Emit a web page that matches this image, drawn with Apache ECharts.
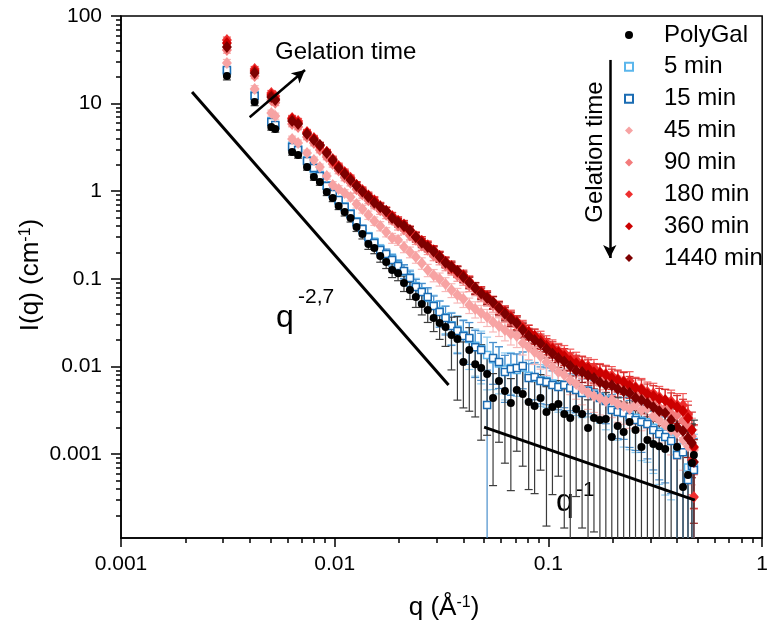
<!DOCTYPE html>
<html><head><meta charset="utf-8">
<script src="https://cdn.jsdelivr.net/npm/echarts@6/dist/echarts.min.js"></script>
<style>html,body{margin:0;padding:0;background:#fff}#c{width:771px;height:626px}</style>
</head><body><div id="c"></div>
<script>
// ---------- data ----------
const q = [0.00313,0.00422,0.00505,0.00527,0.00632,0.00674,0.00742,0.00799,0.00852,0.00918,0.00979,0.01043,0.01113,0.01186,0.01265,0.01348,0.01437,0.01532,0.01633,0.01741,0.01856,0.01979,0.02109,0.02249,0.02397,0.02555,0.02724,0.02904,0.03096,0.03300,0.03518,0.03751,0.03999,0.04263,0.04544,0.04844,0.05164,0.05506,0.05869,0.06257,0.06670,0.07111,0.07580,0.08081,0.08615,0.09184,0.09790,0.1044,0.1113,0.1186,0.1265,0.1348,0.1437,0.1532,0.1633,0.1741,0.1856,0.1979,0.2109,0.2249,0.2397,0.2555,0.2724,0.2904,0.3096,0.3300,0.3518,0.3751,0.3999,0.4263,0.4497,0.4691,0.4793];

const polyGal = [20.7,10.4,5.41,5.13,2.80,2.59,1.89,1.45,1.27,0.98,0.836,0.678,0.579,0.494,0.390,0.324,0.249,0.225,0.182,0.156,0.126,0.116,0.0895,0.0745,0.062,0.0516,0.0441,0.0357,0.0313,0.0282,0.0228,0.0206,0.0112,0.0154,0.0106,0.00959,0.00818,0.00436,0.00681,0.00524,0.00382,0.00538,0.00484,0.00393,0.00353,0.00436,0.00301,0.00344,0.00372,0.00286,0.00258,0.00327,0.00286,0.00198,0.00258,0.00244,0.00251,0.00156,0.00209,0.00178,0.00232,0.00188,0.00120,0.00145,0.00130,0.00123,0.00114,0.00198,0.00120,0.00042,0.000575,0.000789,0.000975];
const polyGalErr = [0.10,0.09,0.08,0.08,0.08,0.08,
 0.08,0.08,0.08,0.09,0.09,0.09,0.10,0.10,0.11,0.12,0.13,0.14,0.15,0.16,0.18,
 0.18,0.20,0.22,0.24,0.25,0.28,0.30,0.35,0.40,0.60,0.80,
 0.70,0.80,0.75,0.85,0.80,0.90,0.80,0.85,0.90,0.80,0.85,0.90,
 0.90,0.85,0.95,0.90,0.85,0.95,1.00,0.90,0.95,1.10,0.95,1.00,
 1.00,1.30,1.10,1.20,1.00,1.10,1.50,1.30,1.40,1.45,1.50,1.00,1.40,2.00,2.50,1.80,1.50];

const min5 = [23.5,12.6,6.3,5.6,3.3,3.0,2.25,1.80,1.52,1.17,0.95,0.78,0.67,0.56,0.455,0.362,0.305,0.262,0.218,0.188,0.168,0.143,0.121,0.105,0.083,0.072,0.0605,0.050,0.0428,0.0364,0.0295,0.0262,0.0228,0.0205,0.0172,0.0158,0.0135,0.0121,0.0108,0.0092,0.0096,0.0091,0.0097,0.0078,0.0074,0.0070,0.0068,0.0064,0.0060,0.0062,0.0059,0.0055,0.0052,0.0053,0.0049,0.0045,0.0042,0.0035,0.0032,0.0030,0.0028,0.0026,0.0024,0.0023,0.0020,0.0018,0.0017,0.0015,0.0011,0.0012,0.0007,0.0008,0.0007];
const min5Err = [0.08,0.08,0.08,0.07,0.07,0.07,
 0.07,0.08,0.08,0.08,0.08,0.09,0.09,0.10,0.10,0.11,0.11,0.12,0.13,0.14,0.15,
 0.16,0.18,0.20,0.22,0.24,0.27,0.30,0.32,0.35,0.40,0.45,
 0.50,0.55,0.55,0.60,0.60,0.55,0.55,0.55,0.50,0.50,0.50,0.50,
 0.50,0.50,0.50,0.50,0.50,0.50,0.50,0.50,0.50,0.50,0.50,0.50,
 0.55,0.55,0.55,0.60,0.60,0.60,0.65,0.65,0.70,0.75,0.80,0.80,1.10,1.00,1.60,1.30,1.40];

const min15 = [24.2,12.2,6.17,5.70,3.20,2.95,2.21,1.84,1.49,1.15,0.929,0.794,0.661,0.550,0.445,0.370,0.300,0.256,0.213,0.192,0.164,0.140,0.123,0.102,0.0805,0.0706,0.0619,0.0489,0.0418,0.0357,0.0289,0.0254,0.0222,0.0211,0.0166,0.0154,0.00363,0.0125,0.0112,0.00863,0.00933,0.00959,0.0101,0.00738,0.00757,0.00681,0.00664,0.00614,0.00582,0.00614,0.00567,0.00538,0.00497,0.00524,0.00472,0.00436,0.00403,0.00318,0.00301,0.00294,0.00264,0.00244,0.00232,0.00220,0.00188,0.00169,0.00156,0.00141,0.000975,0.00105,0.000505,0.00073,0.000656];
const min15Err = [0.08,0.08,0.07,0.07,0.07,0.07,
 0.07,0.07,0.08,0.08,0.08,0.09,0.09,0.10,0.10,0.11,0.12,0.12,0.13,0.14,0.15,
 0.16,0.18,0.20,0.22,0.25,0.28,0.30,0.33,0.36,0.40,0.45,
 0.50,0.50,0.55,0.55,1.50,0.50,0.50,0.55,0.50,0.45,0.45,0.45,
 0.45,0.45,0.45,0.45,0.45,0.45,0.45,0.45,0.45,0.45,0.45,0.45,
 0.45,0.50,0.50,0.50,0.55,0.55,0.55,0.60,0.65,0.70,0.70,0.75,1.00,0.90,1.50,1.20,1.30];

const min45 = [29.0,14.7,7.81,7.21,3.94,3.55,2.73,2.27,1.89,1.49,1.18,1.06,0.953,0.859,0.714,0.626,0.535,0.457,0.401,0.342,0.292,0.277,0.231,0.202,0.177,0.151,0.126,0.110,0.0995,0.0873,0.0745,0.0653,0.0588,0.0502,0.0452,0.0407,0.0366,0.0321,0.0289,0.0261,0.0234,0.0222,0.0185,0.0166,0.0146,0.0131,0.0112,0.00984,0.00863,0.00798,0.00700,0.00630,0.00552,0.00497,0.00459,0.00436,0.00403,0.00413,0.00372,0.00353,0.00327,0.00362,0.00318,0.00335,0.00272,0.00244,0.00214,0.00188,0.00174,0.00145,0.00123,0.00127,0.00111];
const min45Err = [0.10,0.09,0.08,0.08,0.08,0.08,
 0.08,0.08,0.08,0.08,0.09,0.09,0.09,0.10,0.10,0.10,0.11,0.11,0.12,0.12,0.13,
 0.13,0.14,0.14,0.15,0.15,0.16,0.16,0.17,0.18,0.18,0.19,
 0.20,0.20,0.21,0.22,0.22,0.23,0.24,0.25,0.25,0.26,0.27,0.28,
 0.28,0.29,0.30,0.30,0.31,0.32,0.32,0.33,0.34,0.35,0.35,0.36,
 0.36,0.37,0.38,0.38,0.40,0.40,0.42,0.42,0.44,0.45,0.46,0.48,0.50,0.55,0.60,0.65,0.70];

const min90 = [40.9,20.7,11.0,10.2,5.85,5.41,4.16,3.55,2.95,2.46,2.05,1.72,1.43,1.25,1.05,0.915,0.79,0.70,0.605,0.54,0.47,0.405,0.365,0.312,0.28,0.24,0.215,0.185,0.166,0.142,0.128,0.109,0.098,0.084,0.0755,0.0645,0.058,0.0495,0.0445,0.0382,0.0343,0.0293,0.0264,0.0231,0.0209,0.0182,0.0168,0.0148,0.0137,0.0119,0.0114,0.0099,0.0095,0.0085,0.0081,0.0072,0.0069,0.0063,0.0061,0.0054,0.0053,0.0047,0.0046,0.0040,0.0039,0.0034,0.0033,0.0029,0.0028,0.0024,0.0021,0.0016,0.00117];
const min180 = [53.2,24.8,13.2,12.2,6.85,6.33,4.74,4.05,3.37,2.80,2.33,1.94,1.66,1.42,1.18,1.03,0.87,0.79,0.678,0.60,0.521,0.457,0.395,0.351,0.308,0.270,0.242,0.208,0.182,0.156,0.133,0.120,0.105,0.094,0.0785,0.0706,0.0615,0.0543,0.0476,0.0418,0.0372,0.0321,0.0282,0.0250,0.0222,0.0210,0.0185,0.0166,0.0150,0.0142,0.0128,0.0118,0.0106,0.0101,0.0096,0.00863,0.00818,0.0079,0.00718,0.00681,0.0068,0.00582,0.0056,0.0051,0.0049,0.00448,0.00413,0.0040,0.00362,0.0036,0.00286,0.000855,0.000323];
const min360 = [49.2,23.6,12.5,11.3,6.67,6.01,4.62,3.94,3.28,2.80,2.21,1.89,1.61,1.38,1.18,1.00,0.895,0.773,0.665,0.594,0.515,0.457,0.418,0.360,0.300,0.270,0.237,0.212,0.182,0.157,0.140,0.123,0.110,0.0919,0.0790,0.0706,0.0630,0.0543,0.0468,0.0418,0.0362,0.0321,0.0270,0.0247,0.0222,0.0195,0.0172,0.0158,0.0145,0.0131,0.0116,0.0109,0.0104,0.00959,0.0086,0.00841,0.0080,0.00738,0.0070,0.00664,0.0060,0.00567,0.0054,0.00484,0.0046,0.00425,0.0041,0.00372,0.00344,0.00310,0.00258,0.00188,0.00120];
const min1440 = [44.3,22.4,11.9,11.0,6.33,5.85,4.50,3.84,3.37,2.73,2.27,1.84,1.57,1.34,1.15,0.99,0.859,0.74,0.661,0.59,0.494,0.438,0.401,0.356,0.300,0.258,0.231,0.205,0.177,0.153,0.136,0.122,0.105,0.0905,0.0785,0.0680,0.0604,0.0538,0.0465,0.0400,0.0348,0.0310,0.0261,0.0224,0.0200,0.0183,0.0158,0.0140,0.0125,0.0114,0.0101,0.0089,0.00863,0.0079,0.00738,0.0066,0.00614,0.0061,0.00552,0.0052,0.00497,0.0044,0.00413,0.0038,0.00344,0.0031,0.00294,0.00244,0.00203,0.00183,0.00152,0.00134,0.00081];
const redErr = [0.08,0.07,0.07,0.07,0.07,0.07,
 0.07,0.07,0.07,0.07,0.08,0.08,0.08,0.08,0.09,0.09,0.09,0.10,0.10,0.10,0.10,
 0.11,0.11,0.11,0.12,0.12,0.12,0.13,0.13,0.13,0.14,0.14,
 0.14,0.15,0.15,0.15,0.16,0.16,0.17,0.17,0.18,0.18,0.19,0.19,
 0.20,0.20,0.21,0.21,0.22,0.22,0.23,0.23,0.24,0.24,0.25,0.25,
 0.26,0.26,0.27,0.28,0.28,0.29,0.30,0.30,0.31,0.32,0.33,0.34,0.35,0.36,0.40,0.60,0.80];

const xTickValues = [0.001, 0.01, 0.1, 1];
const yTickValues = [0.001, 0.01, 0.1, 1, 10, 100];

// guide lines / arrows (data coordinates)
const fitSteep = [[0.00215, 13.6], [0.0341, 0.00614]];
const fitShallow = [[0.050, 0.00203], [0.484, 0.000298]];
const arrowDiag = [[0.0040, 7.0], [0.00726, 24.2]];
const arrowDown = [[0.1936, 31.5], [0.1936, 0.1727]];

// ---------- chart ----------
const FONT = "'Liberation Sans', Arial, sans-serif";
const X_MIN = 0.001, X_MAX = 1, Y_MIN = 1.1e-4, Y_MAX = 100;

function minors(e0, e1, lo, hi) {
  const out = [];
  for (let e = e0; e < e1; e++) for (let m = 2; m <= 9; m++) {
    const v = +(m * Math.pow(10, e)).toPrecision(3);
    if (v >= lo && v <= hi) out.push(v);
  }
  return out;
}
const xMinor = minors(-3, 0, X_MIN, X_MAX);
const yMinor = minors(-4, 2, Y_MIN, Y_MAX);

const defs = [
  {name:'5 min',   I:min5,   rel:min5Err,   color:'#5BB6EC', bar:'#8ccbf1', symbol:'rect', size:7, open:true},
  {name:'15 min',  I:min15,  rel:min15Err,  color:'#1B6CB3', bar:'#4a8fcc', symbol:'rect', size:7, open:true},
  {name:'45 min',  I:min45,  rel:min45Err,  color:'#F7A3A3', bar:'#f8b9b9', symbol:'diamond', size:[10,12]},
  {name:'90 min',  I:min90,  rel:redErr,    color:'#F37B7B', bar:'#f59a9a', symbol:'diamond', size:[10,12]},
  {name:'180 min', I:min180, rel:redErr,    color:'#EE2E2E', bar:'#f25a5a', symbol:'diamond', size:[10,12]},
  {name:'360 min', I:min360, rel:redErr,    color:'#CC0000', bar:'#d63030', symbol:'diamond', size:[10,12]},
  {name:'1440 min',I:min1440,rel:redErr,    color:'#7E0000', bar:'#9a1c1c', symbol:'diamond', size:[10,12]},
  {name:'PolyGal', I:polyGal,rel:polyGalErr,color:'#000000', bar:'#3c3c3c', symbol:'circle', size:8}
];

function errRender(color) {
  return function (params, api) {
    const x = api.value(0), y = api.value(1), e = api.value(2);
    const hi = Math.min(y + e, Y_MAX), lo = y - e;
    const clipped = lo <= Y_MIN;
    const pHi = api.coord([x, hi]);
    const pLo = api.coord([x, clipped ? Y_MIN : lo]);
    const cx = pHi[0], w = 4;
    const style = {stroke: color, lineWidth: 1.2, fill: null};
    const ch = [
      {type:'line', shape:{x1:cx, y1:pHi[1], x2:cx, y2:pLo[1]}, style},
      {type:'line', shape:{x1:cx-w, y1:pHi[1], x2:cx+w, y2:pHi[1]}, style}
    ];
    if (!clipped) ch.push({type:'line', shape:{x1:cx-w, y1:pLo[1], x2:cx+w, y2:pLo[1]}, style});
    return {type:'group', children: ch};
  };
}

const series = [];
defs.forEach(d => {
  const data = q.map((x, i) => (d.I[i] != null ? [x, d.I[i], d.I[i] * d.rel[i]] : null)).filter(Boolean);
  series.push({type:'custom', name:d.name + ' err', silent:true, renderItem: errRender(d.bar),
    encode:{x:0, y:1}, data: data});
  series.push({type:'scatter', name:d.name, symbol:d.symbol, symbolSize:d.size, silent:true,
    symbolKeepAspect:true,
    itemStyle: d.open ? {color:'#ffffff', borderColor:d.color, borderWidth:1.5, opacity:1}
                      : {color:d.color, opacity:1},
    data: data.map(p => [p[0], p[1]])});
});
series.push({type:'line', name:'fit1', data: fitSteep, symbol:'none', silent:true,
  lineStyle:{color:'#000', width:3}, z:10});
series.push({type:'line', name:'fit2', data: fitShallow, symbol:'none', silent:true,
  lineStyle:{color:'#000', width:3}, z:10});
series.push({type:'line', name:'arrows', data: [], silent:true, z:10,
  markLine:{silent:true, symbol:['none','arrow'], symbolSize:[10,13], animation:false,
    label:{show:false}, lineStyle:{color:'#000', width:2.5, type:'solid'},
    emphasis:{disabled:true},
    data:[[{coord: arrowDiag[0]}, {coord: arrowDiag[1]}],
          [{coord: arrowDown[0]}, {coord: arrowDown[1]}]]}});

function fmt(v) { return String(+(+v).toPrecision(2)); }

const axisCommon = {
  type:'log', logBase:10, splitLine:{show:false}, minorTick:{show:false}, minorSplitLine:{show:false}
};

const option = {
  animation:false,
  backgroundColor:'#ffffff',
  textStyle:{fontFamily:FONT, color:'#000'},
  grid:{left:121, right:3, top:16, bottom:88, show:true, borderColor:'#000', borderWidth:1.5, backgroundColor:'transparent', containLabel:false},
  xAxis:[
    Object.assign({}, axisCommon, {min:X_MIN, max:X_MAX, position:'bottom',
      axisLine:{show:true, onZero:false, lineStyle:{color:'#000', width:1.5}},
      axisTick:{show:true, inside:false, length:9, customValues:xTickValues, lineStyle:{color:'#000', width:1.5}},
      axisLabel:{show:true, customValues:xTickValues, margin:16, fontSize:21, fontFamily:FONT, color:'#000', formatter:fmt}}),
    Object.assign({}, axisCommon, {min:X_MIN, max:X_MAX, position:'bottom',
      axisLine:{show:false, onZero:false},
      axisTick:{show:true, inside:false, length:5, customValues:xMinor, lineStyle:{color:'#000', width:1.5}},
      axisLabel:{show:false}})
  ],
  yAxis:[
    Object.assign({}, axisCommon, {min:Y_MIN, max:Y_MAX, position:'left',
      axisLine:{show:true, onZero:false, lineStyle:{color:'#000', width:1.5}},
      axisTick:{show:true, inside:false, length:10, customValues:yTickValues, lineStyle:{color:'#000', width:1.5}},
      axisLabel:{show:true, customValues:yTickValues, margin:19, fontSize:21, fontFamily:FONT, color:'#000', formatter:fmt}}),
    Object.assign({}, axisCommon, {min:Y_MIN, max:Y_MAX, position:'left',
      axisLine:{show:false, onZero:false},
      axisTick:{show:true, inside:false, length:5, customValues:yMinor, lineStyle:{color:'#000', width:1.5}},
      axisLabel:{show:false}})
  ],
  legend:{
    orient:'vertical', left:624, top:23, padding:0, itemGap:7.86, itemWidth:8, itemHeight:8,
    selectedMode:false,
    data:['PolyGal','5 min','15 min','45 min','90 min','180 min','360 min','1440 min'],
    textStyle:{fontSize:24, fontFamily:FONT, color:'#000', lineHeight:22, padding:[0,0,0,26]}
  },
  graphic:[
    {type:'text', x:275, y:52, silent:true, style:{text:'Gelation time', font:'24px ' + FONT, fill:'#000', align:'left', verticalAlign:'middle'}},
    {type:'text', x:595, y:152, rotation:Math.PI/2, silent:true, style:{text:'Gelation time', font:'24px ' + FONT, fill:'#000', align:'center', verticalAlign:'middle'}},
    {type:'text', x:276, y:318, silent:true, style:{text:'q', font:'32px ' + FONT, fill:'#000', align:'left', verticalAlign:'middle'}},
    {type:'text', x:298, y:297, silent:true, style:{text:'-2,7', font:'21px ' + FONT, fill:'#000', align:'left', verticalAlign:'middle'}},
    {type:'text', x:556, y:502, silent:true, style:{text:'q', font:'32px ' + FONT, fill:'#000', align:'left', verticalAlign:'middle'}},
    {type:'text', x:576, y:490, silent:true, style:{text:'-1', font:'21px ' + FONT, fill:'#000', align:'left', verticalAlign:'middle'}},
    {type:'text', x:31, y:275, rotation:Math.PI/2, silent:true, style:{
      text:'{a|I(q) (cm}{s|-1}{a|)}', align:'center', verticalAlign:'middle', fill:'#000',
      rich:{a:{fontSize:26, fontFamily:FONT, fill:'#000', color:'#000'}, s:{fontSize:16, fontFamily:FONT, verticalAlign:'top', fill:'#000', color:'#000'}}}},
    {type:'text', x:444, y:608, silent:true, style:{
      text:'{a|q (Å}{s|-1}{a|)}', align:'center', verticalAlign:'middle', fill:'#000',
      rich:{a:{fontSize:26, fontFamily:FONT, fill:'#000', color:'#000'}, s:{fontSize:16, fontFamily:FONT, verticalAlign:'top', fill:'#000', color:'#000'}}}}
  ],
  series: series
};

const chart = echarts.init(document.getElementById('c'), null, {renderer:'canvas', width:771, height:626});
chart.setOption(option);
</script>
</body></html>
